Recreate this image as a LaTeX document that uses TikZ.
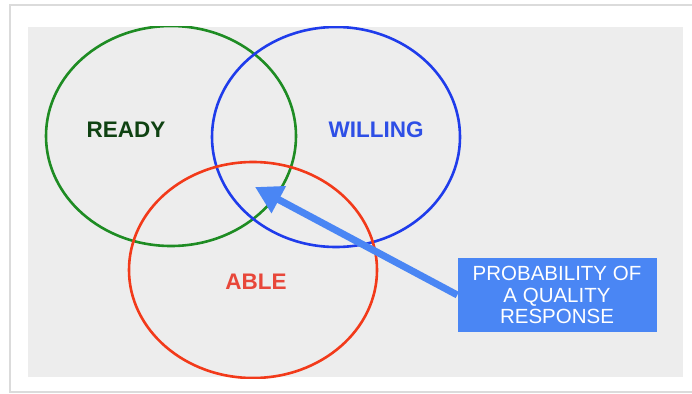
\documentclass[tikz,border=0pt]{standalone}
\usepackage{fontspec}
\setmainfont{Liberation Sans}
\usetikzlibrary{arrows.meta, positioning}

\begin{document}
\begin{tikzpicture}[x=1pt,y=-1pt]
		\definecolor{panel1}{HTML}{EDEDED}
		\definecolor{green1}{HTML}{1E8C23}
		\definecolor{green2}{HTML}{0F4212}
		\definecolor{blue1}{HTML}{1F3CEB}
		\definecolor{blue2}{HTML}{2E4FE6}
		\definecolor{red1}{HTML}{F23A1A}
		\definecolor{red2}{HTML}{E8473A}
		\definecolor{arrow1}{HTML}{4A86F4}
		\tikzset{
			ring/.style={line width=2.6pt},
			word/.style={font=\bfseries\fontsize{22.5}{26}\selectfont}
		}
		\useasboundingbox (0,0) rectangle (692,393);
		\fill[white] (0,0) rectangle (692,393);
		\draw[black!14, line width=1.6pt] (10,5) rectangle (700,392);
		\fill[panel1] (28,27) rectangle (683,377);
		\begin{scope}
			\clip (28,27) rectangle (683,378);
			\draw[ring, green1] (171,136) ellipse [x radius=125, y radius=110];
			\draw[ring, blue1] (336,137) ellipse [x radius=124, y radius=110];
			\draw[ring, red1] (253,270) ellipse [x radius=124, y radius=108];
		\end{scope}
		\node[word, text=green2] (ready) at (126,130) {READY};
		\node[word, text=blue2] (willing) at (376,130) {WILLING};
		\node[word, text=red2] (able) at (256,282) {ABLE};
		\node[fill=arrow1, text=white, align=center, inner sep=0pt,
			minimum width=199pt, minimum height=74pt,
			font=\fontsize{20.5}{21.5}\selectfont] (prob) at (557,295) {PROBABILITY OF\\A QUALITY\\RESPONSE};
		\coordinate (tip) at (255,187);
		\draw[arrow1, line width=7pt, -{Triangle[length=27pt,width=29pt]}] (prob.west) -- (tip);
	\end{tikzpicture}
\end{document}
